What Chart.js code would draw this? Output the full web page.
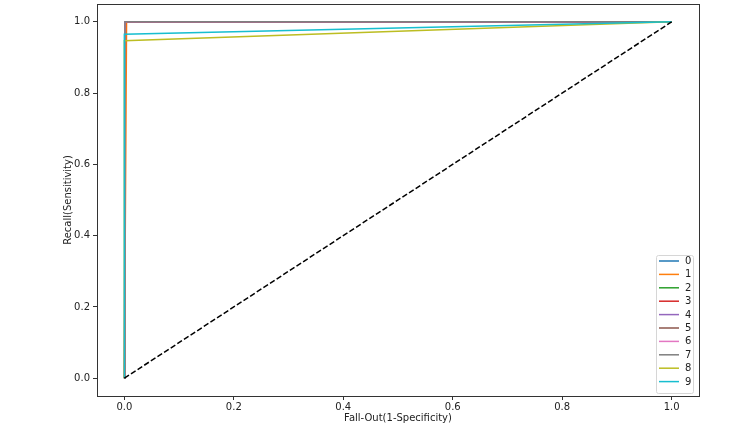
<!DOCTYPE html>
<html>
<head>
<meta charset="utf-8">
<script src="https://cdn.jsdelivr.net/npm/chart.js@4"></script>
<style>
  body { margin: 0; background: #fff; }
  canvas { display: block; }
</style>
</head>
<body>
<canvas id="roc" width="753" height="438"></canvas>
<script>
const classNames = ['0', '1', '2', '3', '4', '5', '6', '7', '8', '9'];
const colors = ['#1f77b4', '#ff7f0e', '#2ca02c', '#d62728', '#9467bd',
                '#8c564b', '#e377c2', '#7f7f7f', '#bcbd22', '#17becf'];
// fall-out / recall per class
const fprs = [
  [0, 0.001, 1], [0, 0.004, 1], [0, 0.001, 1], [0, 0.002, 1], [0, 0.001, 1],
  [0, 0.001, 1], [0, 0.001, 1], [0, 0.001, 1], [0, 0, 1], [0, 0, 1]
];
const tprs = [
  [0, 1, 1], [0, 1, 1], [0, 1, 1], [0, 1, 1], [0, 1, 1],
  [0, 1, 1], [0, 1, 1], [0, 1, 1], [0, 0.947, 1], [0, 0.965, 1]
];
const diagX = [0, 1];
const diagY = [0, 1];
const xTicks = [0, 0.2, 0.4, 0.6, 0.8, 1.0];
const yTicks = [0, 0.2, 0.4, 0.6, 0.8, 1.0];

const FONT = 'DejaVu Sans';
const ink = '#222';

// later classes are drawn on top, like matplotlib does
const datasets = classNames.map((name, i) => ({
  label: name,
  data: fprs[i].map((x, j) => ({x: x, y: tprs[i][j]})),
  borderColor: colors[i],
  borderWidth: 1.5,
  pointRadius: 0,
  tension: 0,
  order: classNames.length - i
}));
datasets.push({
  label: 'chance',
  data: diagX.map((x, j) => ({x: x, y: diagY[j]})),
  borderColor: '#000',
  borderWidth: 1.5,
  borderDash: [5.5, 2.4],
  pointRadius: 0,
  order: 0
});

// frame around the plot plus the legend in the lower right corner
const boxAndLegend = {
  id: 'boxAndLegend',
  afterDraw(chart) {
    const ctx = chart.ctx;
    const a = chart.chartArea;
    ctx.save();
    ctx.strokeStyle = '#333';
    ctx.lineWidth = 1;
    ctx.strokeRect(Math.round(a.left) + 0.5, Math.round(a.top) + 0.5,
                   Math.round(a.right - a.left), Math.round(a.bottom - a.top));

    const w = 37, rowH = 13.4;
    const h = rowH * classNames.length + 4;
    const bx = a.right - 6 - w, by = a.bottom - 3 - h;
    ctx.fillStyle = 'rgba(255,255,255,0.8)';
    ctx.strokeStyle = '#d6d6d6';
    ctx.beginPath();
    ctx.roundRect(bx + 0.5, by + 0.5, w, h, 2);
    ctx.fill();
    ctx.stroke();
    ctx.font = '10px "' + FONT + '"';
    ctx.textBaseline = 'middle';
    ctx.textAlign = 'left';
    classNames.forEach((name, i) => {
      const y = by + 6 + rowH * i;
      ctx.strokeStyle = colors[i];
      ctx.lineWidth = 1.5;
      ctx.beginPath();
      ctx.moveTo(bx + 3, y);
      ctx.lineTo(bx + 23, y);
      ctx.stroke();
      ctx.fillStyle = ink;
      ctx.fillText(name, bx + 29, y + 0.5);
    });
    ctx.restore();
  }
};

new Chart(document.getElementById('roc'), {
  type: 'line',
  data: { datasets: datasets },
  plugins: [boxAndLegend],
  options: {
    responsive: false,
    animation: false,
    layout: { padding: { left: 62, right: 54, top: 4, bottom: 14 } },
    plugins: { legend: { display: false }, tooltip: { enabled: false } },
    scales: {
      x: {
        type: 'linear',
        min: -0.05,
        max: 1.05,
        afterBuildTicks: s => { s.ticks = xTicks.map(v => ({value: v})); },
        afterFit: s => { s.height = 28; s.paddingLeft = 0; s.paddingRight = 0; },
        grid: { drawOnChartArea: false, drawTicks: true, tickLength: 4, color: '#333' },
        border: { display: true, color: '#333' },
        ticks: { color: ink, font: { family: FONT, size: 10 }, padding: 1,
                 maxRotation: 0, callback: v => v.toFixed(1) },
        title: { display: true, text: 'Fall-Out(1-Specificity)', color: ink,
                 font: { family: FONT, size: 10 }, padding: 0 }
      },
      y: {
        type: 'linear',
        min: -0.05,
        max: 1.05,
        afterBuildTicks: s => { s.ticks = yTicks.map(v => ({value: v})); },
        afterFit: s => { s.width = 35; s.paddingTop = 0; s.paddingBottom = 0; },
        grid: { drawOnChartArea: false, drawTicks: true, tickLength: 4, color: '#333' },
        border: { display: true, color: '#333' },
        ticks: { color: ink, font: { family: FONT, size: 10 }, padding: 3,
                 callback: v => v.toFixed(1) },
        title: { display: true, text: 'Recall(Sensitivity)', color: ink,
                 font: { family: FONT, size: 10 }, padding: 0 }
      }
    }
  }
});
</script>
</body>
</html>
